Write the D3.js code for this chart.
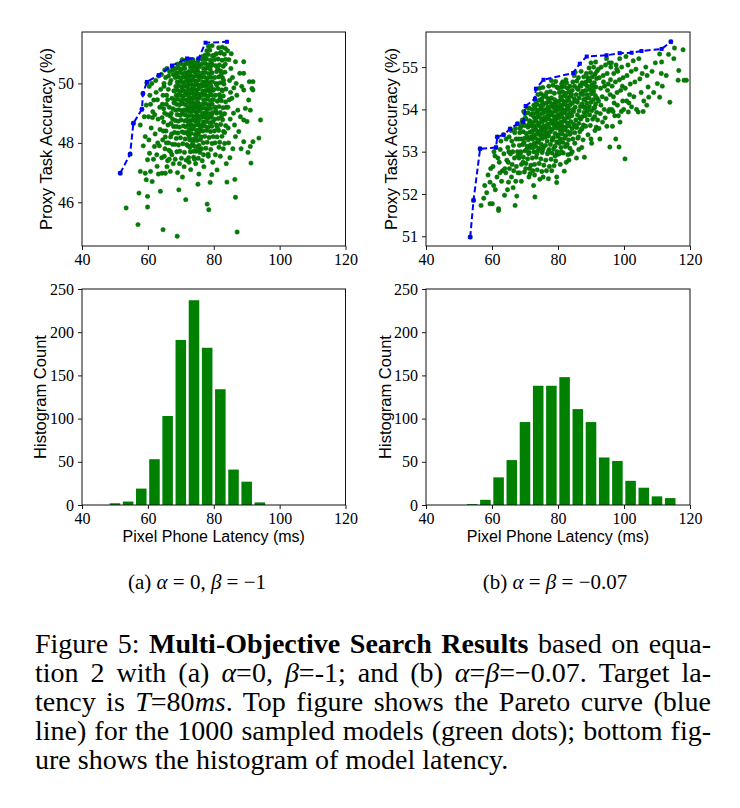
<!DOCTYPE html>
<html><head><meta charset="utf-8">
<script src="https://cdn.jsdelivr.net/npm/d3@7"></script>
<style>body{margin:0;background:#fff}</style>
</head><body>
<script>
// ---------- DATA ----------
const latencyTicks = [40, 60, 80, 100, 120];
const leftAccTicks = [46, 48, 50];
const rightAccTicks = [51, 52, 53, 54, 55];
const countTicks = [0, 50, 100, 150, 200, 250];

const leftPareto = [[51.6,46.98],[54.6,47.62],[55.6,48.66],[58.2,49.13],[58.5,49.66],[59.7,50.05],[63.3,50.28],[67.3,50.6],[71.9,50.84],[75.4,50.84],[77.5,51.37],[84.0,51.40]];
const rightPareto = [[53.4,50.98],[54.4,51.85],[56.4,53.07],[61.2,53.10],[61.6,53.35],[63.5,53.40],[65.5,53.54],[67.7,53.66],[69.5,53.70],[70.2,54.08],[73.0,54.25],[73.3,54.49],[75.6,54.70],[84.6,54.86],[86.6,55.08],[88.7,55.25],[94.7,55.28],[98.7,55.33],[102.3,55.34],[105.3,55.38],[111.4,55.43],[114.2,55.60]];

const leftPoints = [
[51.6,46.98],[53.4,45.81],[54.6,47.62],[55.6,48.66],
[57.0,45.25],[57.3,46.31],[57.7,47.04],[57.7,48.6],[58.2,49.13],[58.5,49.66],[59.2,46.98],[59.5,46.76],[59.2,48.21],[59.5,49.27],[59.9,46.2],[59.9,45.84],[58.9,48.88],[59.7,50.02],[59.9,47.43],[58.6,47.9],
[60.5,47.65],[60.8,47.04],[61.3,46.7],[62.0,47.88],[62.8,47.21],[63.8,46.37],[60.2,48.88],[61.8,49.44],[60.4,49.9],[61.0,48.5],[61.5,49.05],[62.2,48.3],[62.5,49.7],[63.0,48.0],[63.3,50.25],[63.6,49.2],[60.8,49.3],[61.2,50.0],[62.7,47.6],[63.1,48.8],[63.9,49.8],[60.3,48.1],[61.7,47.45],[62.4,50.1],[63.5,47.9],[62.9,49.45],[61.4,48.85],[60.6,49.6],[63.7,48.45],[62.1,48.95],[63.2,46.95],
[64.3,46.98],[64.6,45.08],[65.3,46.98],[66.8,47.04],[64.2,47.5],[64.5,48.1],[64.8,48.7],[64.4,49.3],[64.9,49.9],[64.1,50.3],[65.2,47.8],[65.5,48.4],[65.1,49.0],[65.7,49.6],[65.4,50.2],[65.8,50.5],[66.0,47.4],[66.3,48.0],[66.1,48.6],[66.5,49.2],[66.2,49.8],[66.6,50.4],[66.9,47.7],[67.2,48.3],[66.8,48.9],[67.3,49.5],[67.0,50.1],[67.4,50.55],[67.7,47.3],[67.5,47.95],[67.8,48.55],[67.6,49.15],[67.9,49.75],[67.7,50.3],[64.7,48.4],[65.0,47.55],[65.9,48.95],[66.4,47.75],[67.1,49.0],[64.6,49.6],[65.6,49.3],[66.7,50.0],[67.5,48.8],[64.9,50.0],[65.3,48.2],[66.0,49.45],[66.9,48.2],[67.3,47.6],[67.9,49.35],[65.8,47.2],[64.3,48.85],[66.3,50.25],[65.1,50.45],[67.0,48.65],[67.6,50.45],[66.5,47.45],[64.8,49.15],[65.6,48.0],
[68.9,44.86],[69.4,46.42],[71.5,46.09],[69.0,47.0],[70.5,46.85],[71.0,47.2],[69.6,47.3],
[68.3,47.45],[70.2,47.48],[71.6,47.42],[68.8,47.7],[69.7,47.72],[71.1,47.68],[68.2,47.95],[69.3,47.93],[70.6,47.97],[71.8,47.94],[68.6,48.15],[69.9,48.17],[71.3,48.13],
[68.1,48.35],[69.1,48.33],[70.4,48.37],[71.0,48.34],[71.9,48.36],[68.7,48.55],[69.6,48.53],[70.8,48.57],[71.5,48.54],[68.3,48.75],[69.2,48.73],[70.1,48.77],[71.2,48.74],[71.8,48.76],
[68.9,48.95],[69.8,48.93],[70.6,48.97],[71.4,48.94],[68.4,49.1],[69.4,49.12],[70.3,49.08],[71.0,49.11],[71.7,49.09],[68.7,49.3],[69.6,49.28],[70.5,49.32],[71.3,49.29],
[68.2,49.45],[69.1,49.47],[70.0,49.43],[70.9,49.46],[71.8,49.44],[68.6,49.6],[69.5,49.62],[70.4,49.58],[71.2,49.61],[68.1,49.75],[69.0,49.77],[69.9,49.73],[70.7,49.76],[71.6,49.74],
[68.5,49.9],[69.4,49.92],[70.3,49.88],[71.1,49.91],[71.9,49.89],[68.9,50.05],[69.8,50.07],[70.6,50.03],[71.5,50.06],[68.3,50.2],[69.2,50.22],[70.1,50.18],[71.0,50.21],[71.8,50.19],
[68.7,50.35],[69.6,50.37],[70.5,50.33],[71.4,50.36],[68.4,50.5],[69.3,50.52],[70.2,50.48],[71.2,50.51],[69.0,50.65],[69.9,50.67],[70.8,50.63],[71.7,50.66],[70.4,50.8],[71.5,50.78],
[75.2,46.61],[73.0,47.1],[74.5,47.3],[72.5,47.35],[75.5,46.95],
[72.4,47.5],[73.9,47.52],[75.3,47.48],[72.9,47.7],[74.6,47.72],[75.8,47.68],[72.2,47.9],[73.4,47.92],[74.3,47.88],[75.5,47.91],[72.7,48.1],[73.8,48.12],[74.9,48.08],[75.9,48.11],
[72.1,48.3],[73.2,48.32],[74.4,48.28],[75.3,48.31],[72.6,48.45],[73.6,48.47],[74.7,48.43],[75.7,48.46],[72.3,48.6],[73.1,48.62],[74.1,48.58],[75.1,48.61],[75.9,48.59],
[72.8,48.75],[73.7,48.77],[74.5,48.73],[75.4,48.76],[72.2,48.9],[73.3,48.92],[74.2,48.88],[75.0,48.91],[75.8,48.89],[72.6,49.05],[73.5,49.07],[74.6,49.03],[75.4,49.06],
[72.1,49.2],[73.0,49.22],[73.9,49.18],[74.8,49.21],[75.7,49.19],[72.5,49.35],[73.4,49.37],[74.3,49.33],[75.2,49.36],[72.9,49.5],[73.8,49.52],[74.7,49.48],[75.6,49.51],
[72.3,49.65],[73.2,49.67],[74.1,49.63],[75.0,49.66],[75.9,49.64],[72.7,49.8],[73.6,49.82],[74.5,49.78],[75.4,49.81],[72.2,49.95],[73.1,49.97],[74.0,49.93],[74.9,49.96],[75.8,49.94],
[72.6,50.1],[73.5,50.12],[74.4,50.08],[75.3,50.11],[72.1,50.25],[73.0,50.27],[73.9,50.23],[74.8,50.26],[75.7,50.24],[72.5,50.4],[73.4,50.42],[74.3,50.38],[75.2,50.41],
[72.9,50.55],[73.8,50.57],[74.7,50.53],[75.6,50.56],[72.3,50.7],[73.3,50.72],[74.2,50.68],[75.1,50.71],[72.8,50.81],[73.7,50.8],[75.3,50.79],
[72.45,48.68],[73.45,48.52],[74.35,48.83],[75.25,48.67],[72.95,49.12],[73.95,49.28],[74.85,49.12],[75.55,49.28],[72.35,49.58],[73.25,49.42],[74.15,49.72],[75.15,49.56],[72.85,50.02],[73.75,49.88],[74.65,50.04],
[75.55,49.9],[72.45,50.32],[73.35,50.18],[74.25,50.48],[75.05,50.33],[73.65,48.0],[74.75,48.22],[72.55,48.2],[75.65,48.4],[73.05,50.62],[74.95,50.62],[73.85,47.72],[74.15,47.45],[72.75,47.85],[75.25,47.78],
[78.0,45.94],[78.5,45.75],[78.9,46.67],[79.4,46.93],[77.0,47.2],[76.5,47.4],[79.7,47.35],
[76.9,47.6],[78.3,47.62],[76.3,47.8],[77.6,47.82],[79.1,47.78],[76.8,48.0],[78.0,48.02],[79.5,47.98],[76.2,48.2],[77.3,48.22],[78.6,48.18],[79.8,48.21],[76.7,48.4],[77.8,48.42],[79.0,48.38],
[76.3,48.55],[77.2,48.57],[78.3,48.53],[79.4,48.56],[76.8,48.7],[77.7,48.72],[78.8,48.68],[79.8,48.71],[76.2,48.85],[77.2,48.87],[78.2,48.83],[79.2,48.86],[76.6,49.0],[77.6,49.02],[78.6,48.98],[79.6,49.01],
[76.1,49.15],[77.1,49.17],[78.1,49.13],[79.1,49.16],[76.5,49.3],[77.5,49.32],[78.5,49.28],[79.5,49.31],[76.9,49.45],[77.9,49.47],[78.9,49.43],[79.9,49.46],[76.3,49.6],[77.3,49.62],[78.3,49.58],[79.3,49.61],
[76.7,49.75],[77.7,49.77],[78.7,49.73],[79.7,49.76],[76.2,49.9],[77.2,49.92],[78.2,49.88],[79.2,49.91],[76.6,50.05],[77.6,50.07],[78.6,50.03],[79.6,50.06],[76.1,50.2],[77.1,50.22],[78.1,50.18],[79.1,50.21],
[76.5,50.35],[77.5,50.37],[78.5,50.33],[79.5,50.36],[76.9,50.5],[77.9,50.52],[78.9,50.48],[76.3,50.65],[77.4,50.67],[78.4,50.63],[79.4,50.66],[76.7,50.8],[77.8,50.82],[79.0,50.78],
[77.3,50.95],[78.3,50.97],[79.6,50.93],[77.9,51.1],[78.8,51.12],[78.4,51.25],[79.5,51.27],
[77.45,48.92],[78.45,49.22],[79.35,48.95],[77.05,49.7],[78.05,50.0],[79.05,49.82],[76.45,50.9],[78.35,47.55],[79.25,50.6],
[81.0,47.09],[83.8,47.3],[82.0,47.55],[80.5,47.6],[82.9,47.8],
[80.4,48.0],[81.8,48.02],[83.3,47.98],[81.0,48.2],[82.5,48.22],[80.2,48.4],[81.5,48.42],[83.0,48.38],[80.8,48.6],[82.1,48.62],[83.6,48.58],[80.3,48.8],[81.4,48.82],[82.7,48.78],
[80.9,49.0],[82.0,49.02],[83.3,48.98],[80.4,49.2],[81.6,49.22],[82.8,49.18],[81.1,49.4],[82.3,49.42],[83.6,49.38],[80.5,49.6],[81.7,49.62],[82.9,49.58],[80.1,49.8],[81.3,49.82],[82.5,49.78],[83.7,49.81],
[80.7,50.0],[81.9,50.02],[83.1,49.98],[80.3,50.2],[81.5,50.22],[82.7,50.18],[80.9,50.4],[82.1,50.42],[83.4,50.38],[80.5,50.6],[81.7,50.62],[82.9,50.58],[80.2,50.8],[81.3,50.82],[82.5,50.78],[83.6,50.81],
[80.8,51.0],[82.0,51.02],[83.2,50.98],[81.5,51.2],[82.6,51.22],[83.5,51.18],
[80.6,49.1],[81.2,50.5],[82.4,48.9],[83.0,50.1],[81.9,49.5],[80.2,50.95],[83.8,49.2],[82.2,51.05],[83.3,48.35],[81.1,48.5],[82.6,49.75],[80.9,49.95],[83.5,50.65],[81.6,47.85],[82.3,50.3],
[84.0,46.68],[86.6,46.17],[87.1,45.0],[86.4,46.77],[86.6,48.21],[87.6,48.38],[86.6,50.73],[87.9,50.34],[84.5,48.0],[85.0,48.8],[85.5,49.5],[84.8,50.1],[85.2,50.5],[86.0,49.0],[85.8,47.8],
[84.3,49.2],[87.0,49.6],[86.3,48.6],[84.6,50.8],[85.7,50.2],[87.3,49.1],[84.9,47.5],[86.8,50.0],[84.2,51.1],[85.3,51.0],[84.4,48.5],[85.1,49.7],[86.1,49.85],[84.7,49.45],
[88.1,48.88],[89.1,48.04],[89.1,48.77],[89.6,49.16],[89.1,49.78],[89.1,50.34],[89.1,50.73],[90.1,48.72],[90.4,47.68],[90.6,49.44],[90.8,50.06],[91.1,47.88],[91.1,49.1],[91.3,47.32],[91.6,49.83],
[91.9,48.04],[91.9,50.06],[91.9,49.78],[93.7,48.16],[94.2,48.77],[88.5,49.9],[88.3,47.8]
];

const rightPoints = [
[53.4,50.98],[54.4,51.85],
[56.4,53.07],[56.7,51.73],[57.5,51.9],[58.4,52.03],[59.4,51.77],[59.4,52.28],[58.8,52.45],[59.6,52.6],[57.8,52.2],
[60.1,51.77],[60.5,52.2],[61.2,53.1],[61.6,53.35],[62.0,51.65],[62.0,51.61],[63.5,53.4],[63.8,51.97],[60.3,52.65],[60.9,52.9],[61.5,52.4],[62.2,52.75],[62.5,53.05],[62.9,52.3],[63.2,52.55],[63.6,52.95],[61.0,52.1],[62.7,53.25],[63.9,52.6],[60.6,53.0],[61.8,52.85],[62.4,52.5],
[65.0,52.28],[67.0,51.73],[67.5,51.95],[64.2,52.5],[64.5,52.8],[64.8,53.1],[64.3,53.3],[65.3,52.6],[65.6,52.95],[65.2,53.35],[65.5,53.54],[65.9,52.4],[66.1,52.7],[66.3,53.0],[66.0,53.25],[66.6,52.55],
[66.8,52.85],[66.5,53.15],[66.9,53.45],[67.2,52.3],[67.4,52.65],[67.7,53.0],[67.3,53.3],[67.7,53.66],[67.9,52.5],[67.8,52.9],[64.7,52.1],[65.8,53.5],[66.4,52.15],[67.1,53.55],[64.9,52.75],[65.1,53.0],
[71.2,52.4],[68.9,52.3],[68.4,52.5],[69.8,52.52],[71.5,52.48],[68.9,52.7],[70.3,52.72],[71.8,52.68],[68.2,52.85],[69.5,52.87],[70.8,52.83],[68.7,53.0],[70.0,53.02],[71.3,52.98],
[68.3,53.15],[69.3,53.17],[70.6,53.13],[71.7,53.16],[68.9,53.3],[69.9,53.32],[71.0,53.28],[68.4,53.45],[69.5,53.47],[70.4,53.43],[71.5,53.46],[68.8,53.6],[69.9,53.62],[70.9,53.58],[71.9,53.61],
[69.2,53.75],[70.3,53.77],[71.4,53.73],[70.0,53.9],[70.9,53.92],[71.8,53.88],[70.5,54.05],[71.3,54.03],
[68.6,52.95],[69.7,53.22],[70.2,52.6],[71.1,52.95],[69.1,53.7],[70.7,53.35],[71.6,53.1],[68.5,53.55],[70.1,53.8],[71.2,53.65],[69.4,52.75],[70.5,53.05],[71.9,53.35],[68.1,53.3],[69.6,53.95],[71.4,52.6],
[73.0,51.93],[72.6,52.2],[74.5,52.35],[75.5,52.4],
[72.4,52.55],[73.7,52.57],[75.1,52.53],[72.9,52.7],[74.3,52.72],[75.7,52.68],[72.2,52.85],[73.4,52.87],[74.8,52.83],[72.7,53.0],[73.9,53.02],[75.2,52.98],
[72.3,53.1],[73.3,53.12],[74.4,53.08],[75.6,53.11],[72.8,53.2],[73.8,53.22],[74.9,53.18],[72.2,53.3],[73.2,53.32],[74.2,53.28],[75.3,53.31],[72.7,53.4],[73.7,53.42],[74.7,53.38],[75.8,53.41],
[72.3,53.5],[73.3,53.52],[74.3,53.48],[75.2,53.51],[72.8,53.6],[73.8,53.62],[74.8,53.58],[75.7,53.61],[72.4,53.7],[73.4,53.72],[74.4,53.68],[75.3,53.71],[72.9,53.8],[73.9,53.82],[74.9,53.78],[75.9,53.81],
[72.5,53.9],[73.5,53.92],[74.5,53.88],[75.4,53.91],[72.2,54.0],[73.1,54.02],[74.1,53.98],[75.0,54.01],[75.8,53.99],[72.7,54.1],[73.7,54.12],[74.7,54.08],[75.5,54.11],
[73.3,54.2],[74.3,54.22],[75.2,54.18],[73.9,54.35],[74.8,54.37],[75.7,54.33],[74.4,54.5],[75.4,54.52],
[73.6,52.95],[74.6,53.45],[75.4,53.05],[72.5,53.85],[73.1,54.1],[74.0,53.25],[75.1,54.25],[72.9,52.45],
[79.6,52.27],[79.6,52.4],[77.1,52.36],[76.5,52.55],
[77.4,52.65],[78.8,52.67],[76.3,52.8],[77.9,52.82],[79.3,52.78],[76.8,52.95],[78.2,52.97],[79.7,52.93],[77.3,53.05],[78.7,53.07],[76.2,53.15],[77.7,53.17],[79.1,53.13],
[76.7,53.25],[78.2,53.27],[79.6,53.23],[76.2,53.35],[77.2,53.37],[78.6,53.33],[79.9,53.36],[76.7,53.45],[77.7,53.47],[79.1,53.43],[76.3,53.55],[77.3,53.57],[78.3,53.53],[79.5,53.56],
[76.8,53.65],[77.8,53.67],[78.8,53.63],[79.8,53.66],[76.3,53.75],[77.3,53.77],[78.3,53.73],[79.3,53.76],[76.8,53.85],[77.8,53.87],[78.8,53.83],[79.8,53.86],
[76.4,53.95],[77.4,53.97],[78.4,53.93],[79.4,53.96],[76.9,54.05],[77.9,54.07],[78.9,54.03],[79.9,54.06],[76.5,54.15],[77.5,54.17],[78.5,54.13],[79.5,54.16],
[77.0,54.25],[78.0,54.27],[79.0,54.23],[76.6,54.4],[77.7,54.42],[78.9,54.38],[77.2,54.55],[78.5,54.57],[79.6,54.53],[78.0,54.68],[79.3,54.66],
[77.1,53.0],[78.4,53.3],[79.2,53.7],[76.4,54.3],[77.6,53.9],[78.9,54.1],[79.7,53.0],[76.0,53.5],[78.1,52.55],[79.1,52.9],
[81.9,52.54],[80.7,52.7],[83.3,52.8],[82.5,52.75],
[80.4,52.95],[81.6,52.97],[83.0,52.93],[80.9,53.1],[82.2,53.12],[83.6,53.08],[80.3,53.2],[81.5,53.22],[82.8,53.18],[80.8,53.3],[82.0,53.32],[83.2,53.28],
[80.2,53.4],[81.3,53.42],[82.4,53.38],[83.6,53.41],[80.7,53.5],[81.8,53.52],[82.9,53.48],[80.2,53.6],[81.2,53.62],[82.3,53.58],[83.4,53.61],
[80.7,53.7],[81.7,53.72],[82.8,53.68],[83.9,53.71],[80.2,53.8],[81.2,53.82],[82.2,53.78],[83.3,53.81],[80.7,53.9],[81.7,53.92],[82.7,53.88],[83.7,53.91],
[80.2,54.0],[81.2,54.02],[82.2,53.98],[83.2,54.01],[80.7,54.1],[81.7,54.12],[82.7,54.08],[83.7,54.11],[80.3,54.2],[81.3,54.22],[82.3,54.18],[83.3,54.21],
[80.8,54.3],[81.8,54.32],[82.8,54.28],[83.8,54.31],[80.4,54.4],[81.4,54.42],[82.4,54.38],[83.4,54.41],[80.9,54.52],[81.9,54.54],[82.9,54.5],[81.4,54.65],[82.6,54.63],
[81.0,53.0],[82.6,53.15],[83.8,53.45],[81.1,54.6],[83.6,54.55],[80.5,53.25],[82.0,53.55],[83.1,54.0],[81.5,53.95],[80.1,54.5],[83.9,52.95],[82.4,54.7],[80.9,53.55],[82.1,54.15],
[85.6,52.85],[86.3,53.05],[87.2,53.1],[84.3,53.0],[85.1,53.2],
[84.5,53.3],[86.0,53.32],[87.6,53.28],[85.1,53.45],[86.6,53.47],[84.3,53.55],[85.7,53.57],[87.1,53.53],[84.8,53.65],[86.3,53.67],[87.7,53.63],[85.4,53.75],[86.9,53.77],
[84.2,53.85],[85.9,53.87],[87.4,53.83],[84.7,53.95],[86.4,53.97],[87.9,53.93],[85.2,54.05],[86.8,54.07],[84.4,54.15],[85.9,54.17],[87.3,54.13],[84.9,54.25],[86.4,54.27],[87.8,54.23],
[85.5,54.35],[86.9,54.37],[84.3,54.45],[86.1,54.47],[87.5,54.43],[85.0,54.55],[86.7,54.57],[84.5,54.65],[85.7,54.67],[87.3,54.63],[86.2,54.75],[87.8,54.77],[85.2,54.88],[87.0,54.9],
[84.6,54.0],[85.8,54.5],[86.6,53.8],[87.5,54.35],[85.3,53.6],[84.9,54.8],[86.9,54.55],[87.9,54.05],[85.5,54.2],[86.2,53.35],[84.1,54.35],[87.3,53.55],
[88.0,52.87],[90.2,53.2],[90.0,53.3],[89.1,53.4],[91.2,53.5],
[88.4,53.6],[89.8,53.62],[91.6,53.58],[88.9,53.75],[90.5,53.77],[88.3,53.85],[89.6,53.87],[91.1,53.83],[88.8,53.95],[90.2,53.97],[91.7,53.93],[88.2,54.05],[89.5,54.07],[90.9,54.03],
[88.7,54.15],[90.0,54.17],[91.4,54.13],[88.3,54.25],[89.4,54.27],[90.7,54.23],[91.9,54.26],[88.8,54.35],[90.1,54.37],[91.3,54.33],[88.4,54.45],[89.6,54.47],[90.8,54.43],
[88.9,54.55],[90.2,54.57],[91.5,54.53],[88.5,54.65],[89.7,54.67],[91.0,54.63],[89.1,54.75],[90.4,54.77],[91.7,54.73],[88.6,54.85],[89.9,54.87],[91.2,54.83],[89.4,54.98],[90.8,55.0],[90.0,55.1],[91.4,55.12],
[89.0,54.0],[90.6,54.5],[91.1,54.05],[88.1,54.6],[89.3,54.7],[91.8,54.9],
[95.7,53.11],[92.4,53.55],[93.5,53.7],[94.8,53.6],[92.8,53.9],[94.0,54.0],[95.3,53.95],[92.3,54.2],[93.4,54.3],[94.6,54.25],[95.8,54.35],[92.9,54.5],[94.1,54.55],[95.2,54.6],[92.5,54.75],[93.7,54.8],
[94.9,54.85],[95.9,54.7],[93.1,55.0],[94.4,55.05],[95.5,55.1],[92.2,54.95],[93.0,54.1],[94.3,53.8],[95.0,54.45],[92.7,53.3],[93.8,54.65],[95.6,54.0],[94.7,55.2],[92.0,53.75],[96.0,55.0],
[98.5,53.11],[97.5,53.3],[96.5,53.6],[98.8,53.7],[97.2,53.85],[99.2,53.95],[96.3,54.0],[98.0,54.1],[99.6,54.2],[96.8,54.3],[97.9,54.4],[99.0,54.45],[96.4,54.55],[97.4,54.65],
[98.6,54.7],[99.7,54.75],[96.9,54.85],[98.1,54.9],[99.3,55.0],[97.6,55.05],[96.2,55.1],[98.7,55.2],[99.5,54.55],[97.0,54.15],[96.7,53.95],[99.9,54.0],[98.3,53.85],[97.8,54.95],
[100.3,52.83],[101.3,53.94],[102.3,54.06],[100.8,54.2],[101.7,54.35],[103.0,54.3],[100.4,54.5],[101.9,54.6],[103.3,54.65],[100.9,54.8],[102.2,54.9],[103.6,54.95],[101.2,55.05],[102.8,55.15],[100.6,55.25],[103.8,54.0],[101.5,54.15],
[104.3,53.94],[104.8,54.72],[107.3,54.53],[107.5,54.29],[105.2,54.4],[106.0,54.2],[105.5,54.85],[106.6,55.0],[104.5,55.2],[107.0,54.8],[105.8,53.95],[106.9,54.1],
[110.1,54.61],[110.8,54.29],[110.8,55.31],[109.0,54.4],[108.5,54.9],[111.3,54.85],[109.5,55.1],[111.6,54.55],[111.4,55.12],
[113.9,54.17],[114.2,55.6],[115.1,55.2],[116.4,54.69],[116.6,54.92],[117.9,55.41],[118.9,54.69],[118.2,54.69],[115.3,55.45],[112.8,54.8],[113.5,55.3]
];

const leftBinStarts = [48, 52, 56, 60, 64, 68, 72, 76, 80, 84, 88, 92];
const leftCounts    = [2, 4, 19, 53, 103, 191, 237, 182, 134, 41, 27, 3];
const rightBinStarts = [52, 56, 60, 64, 68, 72, 76, 80, 84, 88, 92, 96, 100, 104, 108, 112];
const rightCounts    = [1, 6, 32, 52, 96, 138, 138, 148, 111, 96, 55, 51, 28, 20, 10, 8];
const binWidth = 4;

const xLabel = "Pixel Phone Latency (ms)";
const topYLabel = "Proxy Task Accuracy (%)";
const bottomYLabel = "Histogram Count";

// ---------- DRAW ----------
const W = 740, H = 808;
const svg = d3.select("body").append("svg").attr("width", W).attr("height", H);
svg.append("rect").attr("width", W).attr("height", H).attr("fill", "#fff");

const SERIF = "'Liberation Serif', 'Times New Roman', serif";
const SANS = "'Liberation Sans', Arial, Helvetica, sans-serif";
const GREEN = "#008000";

function frame(g, x0, x1, y0, y1, x, y, yTicks, yLabel, labelX, showXLabel) {
  const ax = g.append("g").attr("transform", `translate(0,${y1})`)
    .call(d3.axisBottom(x).tickValues(latencyTicks).tickSize(4).tickPadding(4).tickFormat(d3.format("d")));
  const ay = g.append("g").attr("transform", `translate(${x0},0)`)
    .call(d3.axisLeft(y).tickValues(yTicks).tickSize(4).tickPadding(4).tickFormat(d3.format("d")));
  [ax, ay].forEach(a => {
    a.select(".domain").remove();
    a.selectAll("line").attr("stroke", "#000").attr("stroke-width", 0.9);
    a.selectAll("text").attr("font-family", SERIF).attr("font-size", 16).attr("fill", "#000");
  });
  g.append("rect").attr("x", x0).attr("y", y0).attr("width", x1 - x0).attr("height", y1 - y0)
    .attr("fill", "none").attr("stroke", "#111").attr("stroke-width", 1);
  g.append("text").attr("transform", `translate(${labelX},${(y0 + y1) / 2}) rotate(-90)`)
    .attr("text-anchor", "middle").attr("dominant-baseline", "central")
    .attr("font-family", SANS).attr("font-size", 16.5).attr("fill", "#000").text(yLabel);
  if (showXLabel) {
    g.append("text").attr("x", (x0 + x1) / 2).attr("y", y1 + 37)
      .attr("text-anchor", "middle").attr("font-family", SANS).attr("font-size", 16)
      .attr("fill", "#000").text(xLabel);
  }
}

function scatterPanel(x0, x1, y0, y1, yDomain, yTicks, points, pareto, labelX) {
  const g = svg.append("g");
  const x = d3.scaleLinear().domain([40, 120]).range([x0, x1]);
  const y = d3.scaleLinear().domain(yDomain).range([y1, y0]);
  g.append("g").selectAll("circle").data(points).join("circle")
    .attr("cx", d => x(d[0])).attr("cy", d => y(d[1])).attr("r", 2.2)
    .attr("fill", GREEN).attr("stroke", "#0b5e0b").attr("stroke-width", 0.5);
  const line = d3.line().x(d => x(d[0])).y(d => y(d[1]));
  g.append("path").datum(pareto).attr("d", line).attr("fill", "none")
    .attr("stroke", "#0000ff").attr("stroke-width", 2).attr("stroke-dasharray", "6,3");
  g.append("g").selectAll("rect").data(pareto).join("rect")
    .attr("x", d => x(d[0]) - 2).attr("y", d => y(d[1]) - 2).attr("width", 4).attr("height", 4)
    .attr("fill", "#0000ff");
  frame(g, x0, x1, y0, y1, x, y, yTicks, topYLabel, labelX, false);
}

function histPanel(x0, x1, y0, y1, starts, counts, labelX) {
  const g = svg.append("g");
  const x = d3.scaleLinear().domain([40, 120]).range([x0, x1]);
  const y = d3.scaleLinear().domain([0, 250]).range([y1, y0]);
  const data = starts.map((s, i) => ({ s, c: counts[i] }));
  g.append("g").selectAll("rect").data(data).join("rect")
    .attr("x", d => x(d.s + binWidth * 0.1)).attr("width", d => x(d.s + binWidth * 0.9) - x(d.s + binWidth * 0.1))
    .attr("y", d => y(d.c)).attr("height", d => y(0) - y(d.c)).attr("fill", GREEN);
  frame(g, x0, x1, y0, y1, x, y, countTicks, bottomYLabel, labelX, true);
}

scatterPanel(82, 345.5, 32, 246, [44.53, 51.73], leftAccTicks, leftPoints, leftPareto, 46);
scatterPanel(426, 690, 32, 246, [50.77, 55.83], rightAccTicks, rightPoints, rightPareto, 391);
histPanel(82, 345.5, 289, 505, leftBinStarts, leftCounts, 40);
histPanel(426, 690, 289, 505, rightBinStarts, rightCounts, 385);

// Sub-captions
function mathCaption(cx, cy, parts) {
  const t = svg.append("text").attr("x", cx).attr("y", cy).attr("text-anchor", "middle")
    .attr("font-family", SERIF).attr("font-size", 21).attr("fill", "#000");
  parts.forEach(p => t.append("tspan").attr("font-style", p[1] ? "italic" : "normal").text(p[0]));
}
mathCaption(197, 589, [["(a) ", 0], ["α", 1], [" = 0, ", 0], ["β", 1], [" = −1", 0]]);
mathCaption(555, 589, [["(b) ", 0], ["α", 1], [" = ", 0], ["β", 1], [" = −0.07", 0]]);

// Figure caption, justified lines
const captionLines = [
  [["Figure 5: ", ""], ["Multi-Objective Search Results", "b"], [" based on equa-", ""]],
  [["tion 2 with (a) ", ""], ["α", "i"], ["=0, ", ""], ["β", "i"], ["=-1; and (b) ", ""], ["α", "i"], ["=", ""], ["β", "i"], ["=−0.07. Target la-", ""]],
  [["tency is ", ""], ["T", "i"], ["=80", ""], ["ms", "i"], [". Top figure shows the Pareto curve (blue", ""]],
  [["line) for the 1000 sampled models (green dots); bottom fig-", ""]],
  [["ure shows the histogram of model latency.", ""]]
];
const capX0 = 35, capX1 = 711, capY0 = 653, capDY = 29;
captionLines.forEach((parts, i) => {
  const t = svg.append("text").attr("x", capX0).attr("y", capY0 + i * capDY)
    .attr("font-family", SERIF).attr("font-size", 28).attr("fill", "#000");
  parts.forEach(p => t.append("tspan")
    .attr("font-weight", p[1] === "b" ? "bold" : "normal")
    .attr("font-style", p[1] === "i" ? "italic" : "normal").text(p[0]));
  if (i < captionLines.length - 1) {
    const natural = t.node().getComputedTextLength();
    const full = parts.map(p => p[0]).join("");
    const spaces = (full.match(/ /g) || []).length;
    if (spaces > 0) t.attr("word-spacing", (capX1 - capX0 - natural) / spaces);
  }
});
</script>
</body></html>
